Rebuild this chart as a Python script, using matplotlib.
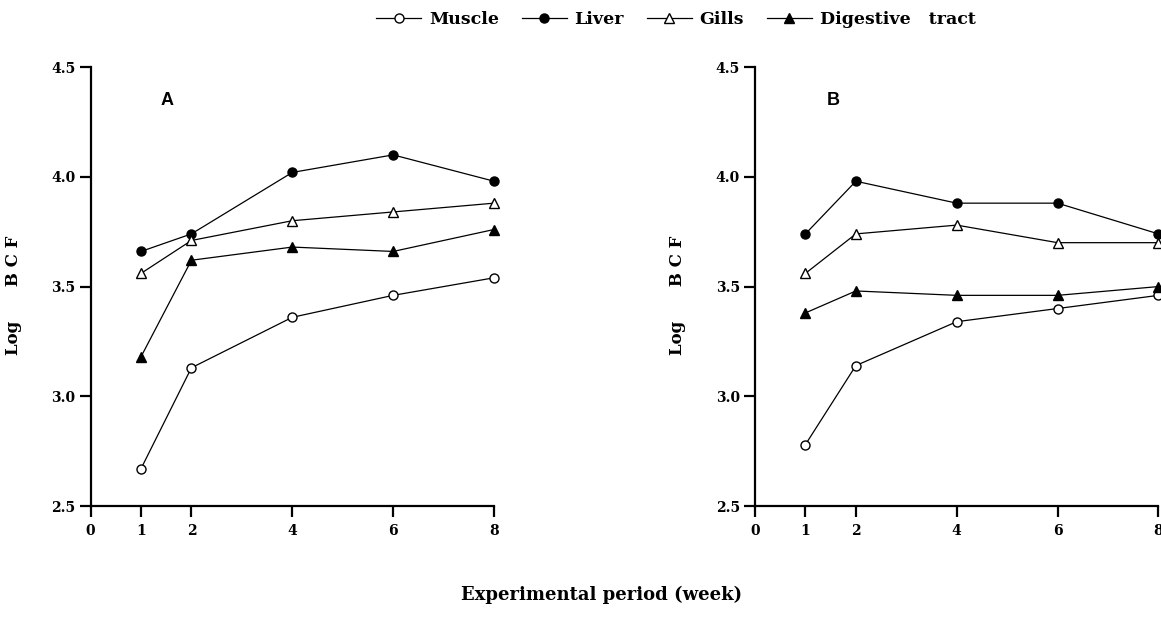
import numpy as np
import matplotlib.pyplot as plt

# Experimental period (weeks)
weeks = [1, 2, 4, 6, 8]
xticks = [0, 1, 2, 4, 6, 8]
yticks = [2.5, 3.0, 3.5, 4.0, 4.5]

# Panel A, log BCF
a_muscle = [2.67, 3.13, 3.36, 3.46, 3.54]
a_liver = [3.66, 3.74, 4.02, 4.10, 3.98]
a_gills = [3.56, 3.71, 3.80, 3.84, 3.88]
a_digest = [3.18, 3.62, 3.68, 3.66, 3.76]

# Panel B, log BCF
b_muscle = [2.78, 3.14, 3.34, 3.40, 3.46]
b_liver = [3.74, 3.98, 3.88, 3.88, 3.74]
b_gills = [3.56, 3.74, 3.78, 3.70, 3.70]
b_digest = [3.38, 3.48, 3.46, 3.46, 3.50]

labels = ["Muscle", "Liver", "Gills", "Digestive   tract"]
styles = [("o", "white"), ("o", "black"), ("^", "white"), ("^", "black")]

serif = "DejaVu Serif"

fig = plt.figure(figsize=(11.61, 6.24), dpi=100)
axA = fig.add_axes([0.0780, 0.189, 0.3475, 0.7035])
axB = fig.add_axes([0.6503, 0.189, 0.3475, 0.7035])

panels = [
    (axA, "A", 1.51, [a_muscle, a_liver, a_gills, a_digest]),
    (axB, "B", 1.56, [b_muscle, b_liver, b_gills, b_digest]),
]

handles = []
for ax, tag, tx, series in panels:
    for vals, lab, (m, fc) in zip(series, labels, styles):
        h, = ax.plot(weeks, vals, color="black", lw=0.9, marker=m,
                     markersize=7.5 if m == "^" else 6.5, markerfacecolor=fc,
                     markeredgecolor="black", markeredgewidth=1.0,
                     label=lab, clip_on=False, zorder=3)
        if ax is axA:
            handles.append(h)
    ax.set_xlim(0, 8)
    ax.set_ylim(2.5, 4.5)
    ax.set_xticks(xticks)
    ax.set_yticks(yticks)
    ax.set_xticklabels([str(t) for t in xticks])
    ax.set_yticklabels([f"{t:.1f}" for t in yticks])
    for s in ["top", "right"]:
        ax.spines[s].set_visible(False)
    for s in ["left", "bottom"]:
        ax.spines[s].set_linewidth(1.6)
    ax.tick_params(direction="out", length=8, width=1.6, pad=3,
                   labelsize=10)
    ax.tick_params(axis="x", pad=5)
    for t in ax.get_xticklabels() + ax.get_yticklabels():
        t.set_fontfamily(serif)
        t.set_fontweight("bold")
    ax.text(tx, 4.35, tag, fontsize=13, fontweight="bold",
            fontfamily="Liberation Sans", ha="center", va="center")
    ax.set_ylabel("Log      B C F", fontsize=12, fontfamily=serif,
                  fontweight="bold")
    ax.yaxis.set_label_coords(-0.170, 0.48)

fig.legend(handles, labels, loc="center", bbox_to_anchor=(0.582, 0.968),
           ncol=4, frameon=False, handlelength=2.6, columnspacing=1.3,
           handletextpad=0.45, prop={"family": serif, "weight": "bold", "size": 12.5})

fig.text(0.518, 0.046, "Experimental period (week)", ha="center", va="center",
         fontsize=13, fontfamily=serif, fontweight="bold")

fig.savefig("out.png", dpi=100)
